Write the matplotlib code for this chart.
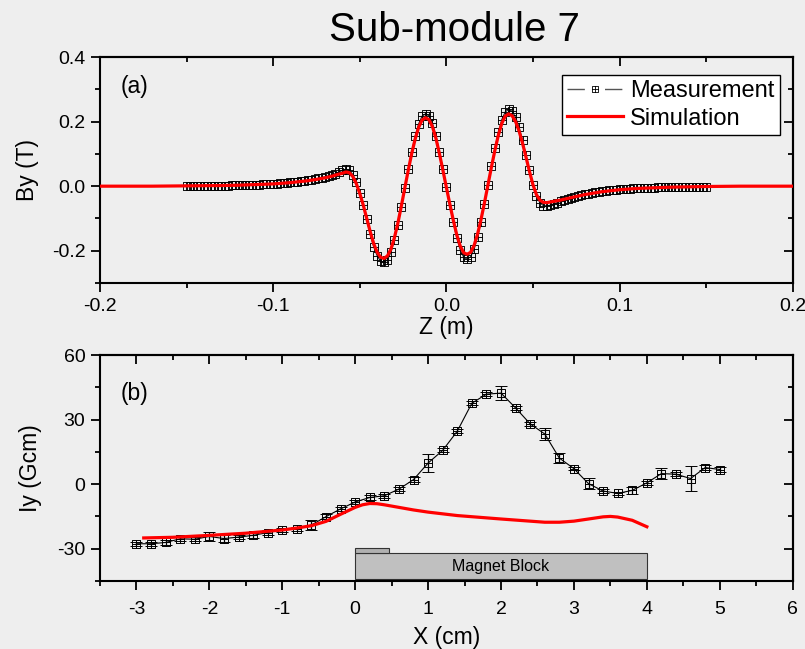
import numpy as np
import matplotlib
matplotlib.use('Agg')
import matplotlib.pyplot as plt
from matplotlib.path import Path
from matplotlib.patches import Rectangle
from matplotlib.lines import Line2D
from matplotlib.ticker import MultipleLocator, FormatStrFormatter

plt.rcParams['font.family'] = ['Liberation Sans', 'DejaVu Sans']
plt.rcParams['axes.unicode_minus'] = False

# (a) field along the beam axis, measured on a 2 mm grid
meas_z = np.round(np.arange(-150, 151, 2) * 1e-3, 3)
meas_by = [
    0.000, 0.000, 0.001, 0.001, 0.001, 0.001, 0.001, 0.001, 0.002, 0.002,
    0.002, 0.002, 0.002, 0.003, 0.003, 0.003, 0.003, 0.004, 0.004, 0.004,
    0.005, 0.005, 0.006, 0.006, 0.007, 0.007, 0.008, 0.009, 0.010, 0.011,
    0.012, 0.013, 0.014, 0.015, 0.017, 0.018, 0.020, 0.022, 0.024, 0.026,
    0.029, 0.032, 0.035, 0.039, 0.044, 0.049, 0.052, 0.049, 0.036, 0.012,
    -0.020, -0.058, -0.103, -0.148, -0.187, -0.215, -0.232, -0.236, -0.228, -0.205,
    -0.168, -0.120, -0.064, -0.006, 0.052, 0.107, 0.155, 0.193, 0.217, 0.224,
    0.218, 0.195, 0.156, 0.107, 0.053, -0.003, -0.059, -0.112, -0.160, -0.197,
    -0.220, -0.226, -0.219, -0.196, -0.158, -0.110, -0.055, 0.003, 0.061, 0.117,
    0.167, 0.206, 0.230, 0.238, 0.232, 0.213, 0.183, 0.143, 0.097, 0.050,
    0.005, -0.029, -0.051, -0.060, -0.061, -0.059, -0.055, -0.051, -0.047, -0.043,
    -0.040, -0.036, -0.033, -0.030, -0.027, -0.025, -0.023, -0.021, -0.019, -0.017,
    -0.016, -0.014, -0.013, -0.012, -0.011, -0.010, -0.009, -0.009, -0.008, -0.007,
    -0.007, -0.006, -0.006, -0.005, -0.005, -0.005, -0.004, -0.004, -0.004, -0.003,
    -0.003, -0.003, -0.003, -0.002, -0.002, -0.002, -0.002, -0.002, -0.001, -0.001,
    -0.001,
]

sim_z = ([-0.200, -0.170, -0.150, -0.130, -0.120, -0.110, -0.100, -0.090, -0.080,
          -0.075, -0.070, -0.066, -0.063]
         + list(np.round(np.arange(-60, 61, 2) * 1e-3, 3))
         + [0.063, 0.066, 0.070, 0.075, 0.080, 0.090, 0.100, 0.110, 0.120,
            0.130, 0.150, 0.170, 0.200])
sim_by = [
    0.000, 0.000, 0.001, 0.002, 0.003, 0.005, 0.007, 0.011, 0.017,
    0.021, 0.026, 0.031, 0.036,
    0.040, 0.044, 0.042, 0.030, 0.008, -0.022, -0.058, -0.099, -0.140, -0.177,
    -0.204, -0.220, -0.224, -0.216, -0.195, -0.160, -0.115, -0.062, -0.006, 0.049,
    0.101, 0.146, 0.182, 0.205, 0.212, 0.206, 0.184, 0.148, 0.101, 0.050,
    -0.003, -0.055, -0.105, -0.150, -0.185, -0.206, -0.211, -0.205, -0.184, -0.149,
    -0.104, -0.052, 0.003, 0.058, 0.110, 0.157, 0.194, 0.217, 0.224, 0.218,
    0.200, 0.171, 0.133, 0.090, 0.046, 0.005, -0.026, -0.043, -0.050, -0.051,
    -0.049,
    -0.046, -0.043, -0.038, -0.032, -0.026, -0.017, -0.011, -0.007, -0.005,
    -0.003, -0.001, 0.000, 0.000,
]

# (b) first field integral versus transverse position
iy_x = [-3.0, -2.8, -2.6, -2.4, -2.2, -2.0, -1.8, -1.6, -1.4, -1.2,
        -1.0, -0.8, -0.6, -0.4, -0.2, 0.0, 0.2, 0.4, 0.6, 0.8,
        1.0, 1.2, 1.4, 1.6, 1.8, 2.0, 2.2, 2.4, 2.6, 2.8,
        3.0, 3.2, 3.4, 3.6, 3.8, 4.0, 4.2, 4.4, 4.6, 4.8, 5.0]
iy_meas = [-27.7, -27.7, -27.1, -25.4, -25.6, -24.3, -25.3, -24.6, -23.8, -22.5,
           -21.2, -20.8, -19.0, -15.1, -11.5, -8.3, -6.2, -5.4, -2.3, 2.1,
           9.8, 15.7, 24.6, 37.6, 41.8, 42.3, 35.4, 28.0, 23.3, 12.1,
           7.2, 0.2, -3.2, -4.3, -2.9, 0.6, 4.9, 4.6, 2.6, 7.7, 6.8]
iy_err = [1.0, 1.0, 1.0, 1.0, 1.0, 1.9, 1.5, 1.0, 1.0, 1.0,
          1.0, 1.0, 2.2, 1.0, 1.0, 1.0, 1.0, 1.0, 1.0, 1.0,
          4.1, 1.0, 1.0, 1.0, 0.8, 3.1, 1.0, 1.0, 2.9, 2.3,
          0.8, 2.5, 1.0, 0.8, 1.8, 1.0, 2.5, 1.0, 5.9, 1.0, 1.0]

iy_sim_x = [-2.9, -2.5, -2.0, -1.5, -1.0, -0.8, -0.6, -0.4, -0.2, 0.0,
            0.1, 0.2, 0.3, 0.4, 0.6, 0.8, 1.0, 1.4, 2.0, 2.6,
            2.8, 3.0, 3.2, 3.4, 3.5, 3.6, 3.8, 4.0]
iy_sim = [-25.0, -24.7, -23.8, -22.8, -21.3, -20.4, -19.3, -17.3, -14.0, -10.8,
          -9.6, -9.0, -9.1, -9.6, -10.8, -12.0, -13.0, -14.6, -16.2, -17.7,
          -17.7, -17.2, -16.2, -15.2, -15.0, -15.3, -16.8, -19.8]

BG = '#eeeeee'

# square with a cross inside, used for the measured points
box_cross = Path(
    [(-1, -1), (1, -1), (1, 1), (-1, 1), (-1, -1), (0, -1), (0, 1), (-1, 0), (1, 0)],
    [Path.MOVETO, Path.LINETO, Path.LINETO, Path.LINETO, Path.LINETO,
     Path.MOVETO, Path.LINETO, Path.MOVETO, Path.LINETO])


def style_axes(ax, xmaj, xmin, ymaj, ymin, xfmt, yfmt, xpad=4):
    ax.set_facecolor('none')
    ax.xaxis.set_major_locator(MultipleLocator(xmaj))
    ax.xaxis.set_minor_locator(MultipleLocator(xmin))
    ax.yaxis.set_major_locator(MultipleLocator(ymaj))
    ax.yaxis.set_minor_locator(MultipleLocator(ymin))
    ax.xaxis.set_major_formatter(FormatStrFormatter(xfmt))
    ax.yaxis.set_major_formatter(FormatStrFormatter(yfmt))
    ax.tick_params(which='both', direction='out', width=1.3, labelsize=14, pad=4)
    ax.tick_params(axis='x', pad=xpad)
    ax.tick_params(which='major', length=6.5)
    ax.tick_params(which='minor', length=3.5)
    for s in ax.spines.values():
        s.set_linewidth(1.5)

    # inward ticks on the top and right edges
    top = ax.secondary_xaxis('top')
    top.xaxis.set_major_locator(MultipleLocator(xmaj))
    top.xaxis.set_minor_locator(MultipleLocator(xmin))
    top.tick_params(which='both', direction='in', width=1.3, labeltop=False)
    top.tick_params(which='major', length=6.5)
    top.tick_params(which='minor', length=3.5)
    top.spines['top'].set_linewidth(1.5)
    right = ax.secondary_yaxis('right')
    right.yaxis.set_major_locator(MultipleLocator(ymaj))
    right.yaxis.set_minor_locator(MultipleLocator(ymin))
    right.tick_params(which='both', direction='in', width=1.3, labelright=False)
    right.tick_params(which='major', length=6.5)
    right.tick_params(which='minor', length=3.5)
    right.spines['right'].set_linewidth(1.5)


def main():
    fig = plt.figure(figsize=(8.05, 6.49), dpi=100, facecolor=BG)
    ax1 = fig.add_axes([0.1242, 0.5639, 0.8605, 0.3482])
    ax2 = fig.add_axes([0.1242, 0.1048, 0.8605, 0.3482])

    fig.text(0.564, 0.954, 'Sub-module 7', fontsize=29, ha='center', va='center')

    # panel (a)
    ax1.plot(meas_z, meas_by, '-', color='#202020', lw=0.8, marker=box_cross,
             ms=5.5, mfc='none', mec='black', mew=0.65, zorder=2)
    ax1.plot(sim_z, sim_by, '-', color='red', lw=2.3, zorder=3)
    ax1.set_xlim(-0.2, 0.2)
    ax1.set_ylim(-0.3, 0.4)
    style_axes(ax1, 0.1, 0.05, 0.2, 0.1, '%.1f', '%.1f')
    ax1.set_xlabel('Z (m)', fontsize=16.5, va='center')
    ax1.xaxis.set_label_coords(0.5, -0.197)
    ax1.set_ylabel('By (T)', fontsize=16.5, va='center')
    ax1.yaxis.set_label_coords(-0.104, 0.5)
    ax1.text(0.05, 0.87, '(a)', transform=ax1.transAxes, fontsize=16.5,
             ha='center', va='center')

    meas_handle = (Line2D([], [], color='#555555', lw=1.0, ls=(0, (12.5, 14.5))),
                   Line2D([], [], ls='none', marker=box_cross, ms=4, mfc='none',
                          mec='black', mew=0.6))
    sim_handle = Line2D([], [], color='red', lw=2.3)
    leg = ax1.legend([meas_handle, sim_handle], ['Measurement', 'Simulation'],
                     loc='upper right', bbox_to_anchor=(0.981, 0.92),
                     fontsize=17, frameon=True, fancybox=False, framealpha=1,
                     edgecolor='black', handlelength=2.35, handletextpad=0.3,
                     borderpad=0.22, labelspacing=0.22, borderaxespad=0)
    leg.get_frame().set_linewidth(1.0)

    # panel (b)
    ax2.errorbar(iy_x, iy_meas, yerr=iy_err, fmt='-', color='black', lw=0.8,
                 elinewidth=0.9, capsize=4, capthick=0.9, marker=box_cross,
                 ms=6, mfc='none', mec='black', mew=0.7, zorder=2)
    ax2.plot(iy_sim_x, iy_sim, '-', color='red', lw=2.3, zorder=3)

    ax2.add_patch(Rectangle((0, -44.3), 4.0, 12.3, facecolor='#c0c0c0',
                            edgecolor='#333333', lw=0.8, zorder=1))
    ax2.add_patch(Rectangle((0, -32.0), 0.46, 2.1, facecolor='#b0b0b0',
                            edgecolor='#333333', lw=0.8, zorder=1))
    ax2.text(2.0, -38.2, 'Magnet Block', fontsize=11.5, ha='center', va='center')

    ax2.set_xlim(-3.5, 6)
    ax2.set_ylim(-45, 60)
    style_axes(ax2, 1, 0.5, 30, 15, '%d', '%d', xpad=8)
    ax2.set_xlabel('X (cm)', fontsize=16.5, va='center')
    ax2.xaxis.set_label_coords(0.5, -0.25)
    ax2.set_ylabel('Iy (Gcm)', fontsize=16.5, va='center')
    ax2.yaxis.set_label_coords(-0.100, 0.5)
    ax2.text(0.05, 0.83, '(b)', transform=ax2.transAxes, fontsize=16.5,
             ha='center', va='center')

    fig.savefig('out.png', dpi=100, facecolor=BG)


if __name__ == '__main__':
    main()
